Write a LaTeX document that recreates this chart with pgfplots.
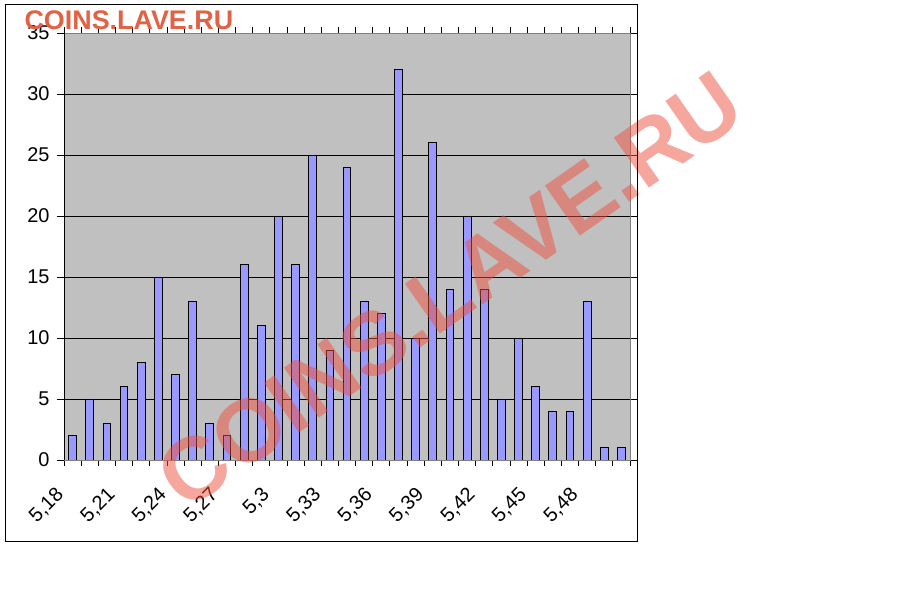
\documentclass[border=0pt]{standalone}
\usepackage{fontspec}
\setmainfont{Liberation Sans}
\usepackage{pgfplots}
\pgfplotsset{compat=1.18}
\definecolor{plotgray}{RGB}{192,192,192}
\definecolor{barblue}{RGB}{153,153,255}
\definecolor{wmark}{RGB}{226,98,70}
\definecolor{wmarkbig}{RGB}{238,80,60}
\begin{document}
\begin{tikzpicture}[x=1bp,y=1bp]
\useasboundingbox[fill=white] (0,0) rectangle (900,600);
% plot area 64..630 wide, 140..567 high
\begin{axis}[
  at={(64bp,140bp)}, anchor=south west,
  width=566bp, height=427bp, scale only axis,
  xmin=-0.5, xmax=32.5, ymin=0, ymax=35,
  axis background/.style={fill=plotgray},
  axis line style={draw=gray},
  ybar, bar width=7.8bp,
  ytick={0,5,...,35},
  ymajorgrids, grid style={black, line width=0.8bp},
  xtick={0,3,...,30},
  xticklabels={{5,18},{5,21},{5,24},{5,27},{5,3},{5,33},{5,36},{5,39},{5,42},{5,45},{5,48}},
  minor xtick={-0.5,0.5,...,32.5},
  major x tick style={draw=none},
  tick align=outside,
  major tick length=7bp, minor tick length=6bp,
  tick style={black, line width=0.8bp},
  /pgf/number format/assume math mode=true,
  tick label style={font=\fontsize{20}{20}\selectfont},
  yticklabel style={xshift=-4bp},
  xticklabel style={xshift=-18bp, yshift=-14bp, rotate=45, anchor=north east},
]
\addplot[fill=barblue, draw=black, line width=0.9bp] coordinates {
  (0,2) (1,5) (2,3) (3,6) (4,8) (5,15) (6,7) (7,13) (8,3) (9,2)
  (10,16) (11,11) (12,20) (13,16) (14,25) (15,9) (16,24) (17,13) (18,12) (19,32)
  (20,10) (21,26) (22,14) (23,20) (24,14) (25,5) (26,10) (27,6) (28,4) (29,4)
  (30,13) (31,1) (32,1)
};
\draw[black, line width=0.9bp] (rel axis cs:0,1) -- (rel axis cs:0,0) -- (rel axis cs:1,0);
\end{axis}
\node[anchor=base west, font=\bfseries\fontsize{27}{27}\selectfont, text=wmark] at (21,570) {COINS.LAVE.RU};
\node[rotate=35, text=wmarkbig, opacity=0.5, font=\bfseries\fontsize{89}{89}\selectfont] at (450,310) {COINS.LAVE.RU};
\draw[black, line width=1bp] (5.5,58) rectangle (637.5,595);
\end{tikzpicture}
\end{document}
